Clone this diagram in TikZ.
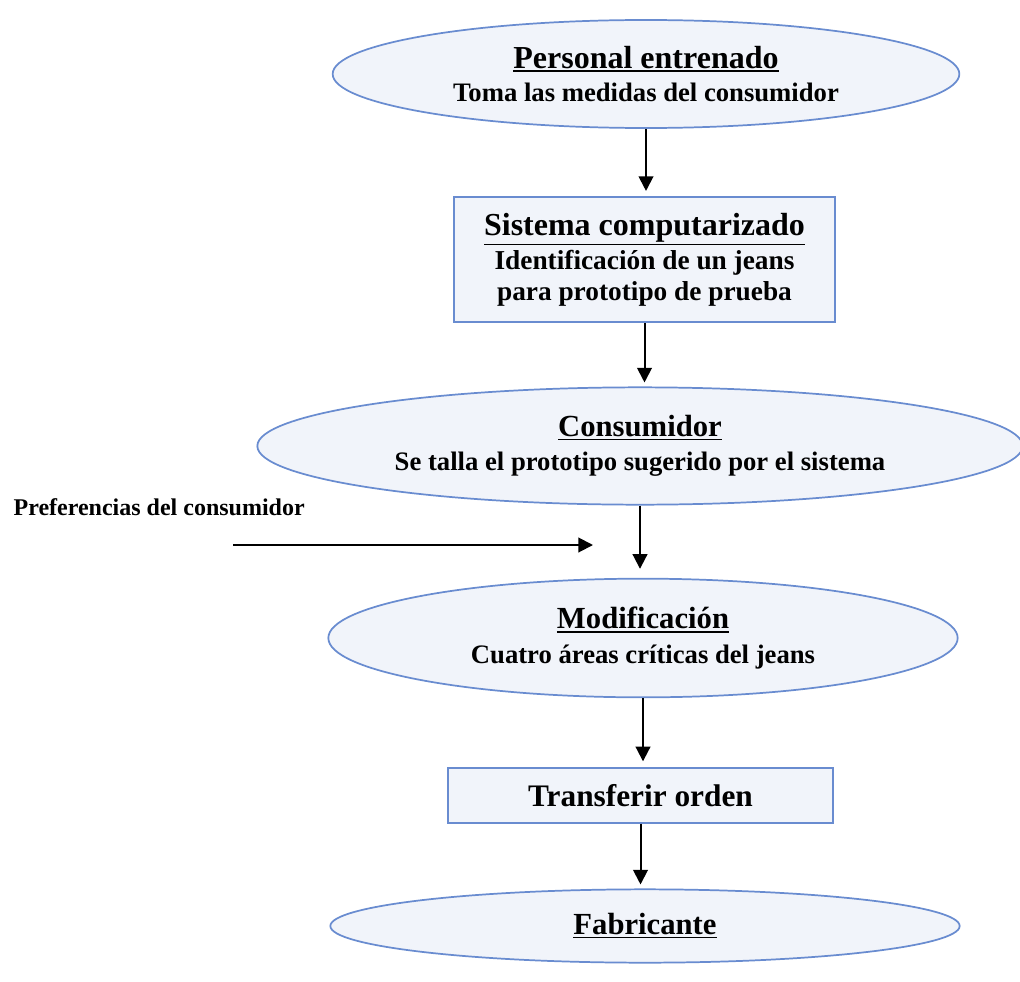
\documentclass[tikz,border=0pt]{standalone}
\usepackage{fontspec}
\setmainfont{Liberation Serif}
\usetikzlibrary{shapes.geometric,arrows.meta}
\definecolor{borde}{RGB}{105,140,208}
\definecolor{relleno}{RGB}{241,244,250}
\newcommand\subrayado[1]{\vtop{\hbox{#1}\kern1.2pt\hrule height 1.3pt}}
\begin{document}
\begin{tikzpicture}[x=0.75pt,y=-0.75pt,
  elip/.style={ellipse, draw=borde, fill=relleno, line width=1.3pt, inner sep=0pt, align=center, font=\bfseries},
  caja/.style={rectangle, draw=borde, fill=relleno, line width=1.3pt, inner sep=0pt, align=center, font=\bfseries},
  flecha/.style={line width=1.5pt, -{Triangle[length=11pt,width=11pt]}}]
\useasboundingbox (0,0) rectangle (1020,981);
% nodos del flujo
\node[elip, minimum width=470pt, minimum height=81pt] (pers) at (646,74)
  {\fontsize{24}{26}\selectfont\subrayado{Personal entrenado}\\[7pt]
   \fontsize{20}{24}\selectfont Toma las medidas del consumidor};
\node[caja, minimum width=286pt, minimum height=94pt] (sist) at (644.5,259.5)
  {\fontsize{24}{24}\selectfont\subrayado{Sistema computarizado}\\[3pt]
   \fontsize{20.5}{22}\selectfont Identificación de un jeans\\[3pt]
   \fontsize{20.5}{22}\selectfont para prototipo de prueba};
\node[elip, minimum width=574pt, minimum height=88pt] (cons) at (640,446)
  {\fontsize{23}{26}\selectfont\subrayado{Consumidor}\\[8pt]
   \fontsize{20}{24}\selectfont Se talla el prototipo sugerido por el sistema};
\node[elip, minimum width=472pt, minimum height=89pt] (modi) at (643,638)
  {\fontsize{23}{26}\selectfont\subrayado{Modificación}\\[8pt]
   \fontsize{20}{24}\selectfont Cuatro áreas críticas del jeans};
\node[caja, minimum width=289pt, minimum height=41pt] (tran) at (640.5,795.5)
  {\fontsize{23.5}{24}\selectfont Transferir orden};
\node[elip, minimum width=472pt, minimum height=55pt] (fabr) at (645,926)
  {\fontsize{23}{26}\selectfont\subrayado{Fabricante}};
% entrada lateral
\node[anchor=base east, inner sep=0pt, font=\bfseries\fontsize{18}{20}\selectfont] (pref) at (305,515) {Preferencias del consumidor};
\coordinate (pref0) at (233,545);
\coordinate (pref1) at (593,545);
% flechas
\draw[flecha, shorten >=3.75pt] (pers.south) -- (pers.south |- sist.north);
\draw[flecha, shorten >=3pt] (sist.south) -- (sist.south |- cons.north);
\draw[flecha, shorten >=6.75pt] (cons.south) -- (cons.south |- modi.north);
\draw[flecha, shorten >=4.5pt] (modi.south) -- (modi.south |- tran.north);
\draw[flecha, shorten >=3pt] (tran.south) -- (tran.south |- fabr.north);
\draw[flecha] (pref0) -- (pref1);
\end{tikzpicture}
\end{document}
